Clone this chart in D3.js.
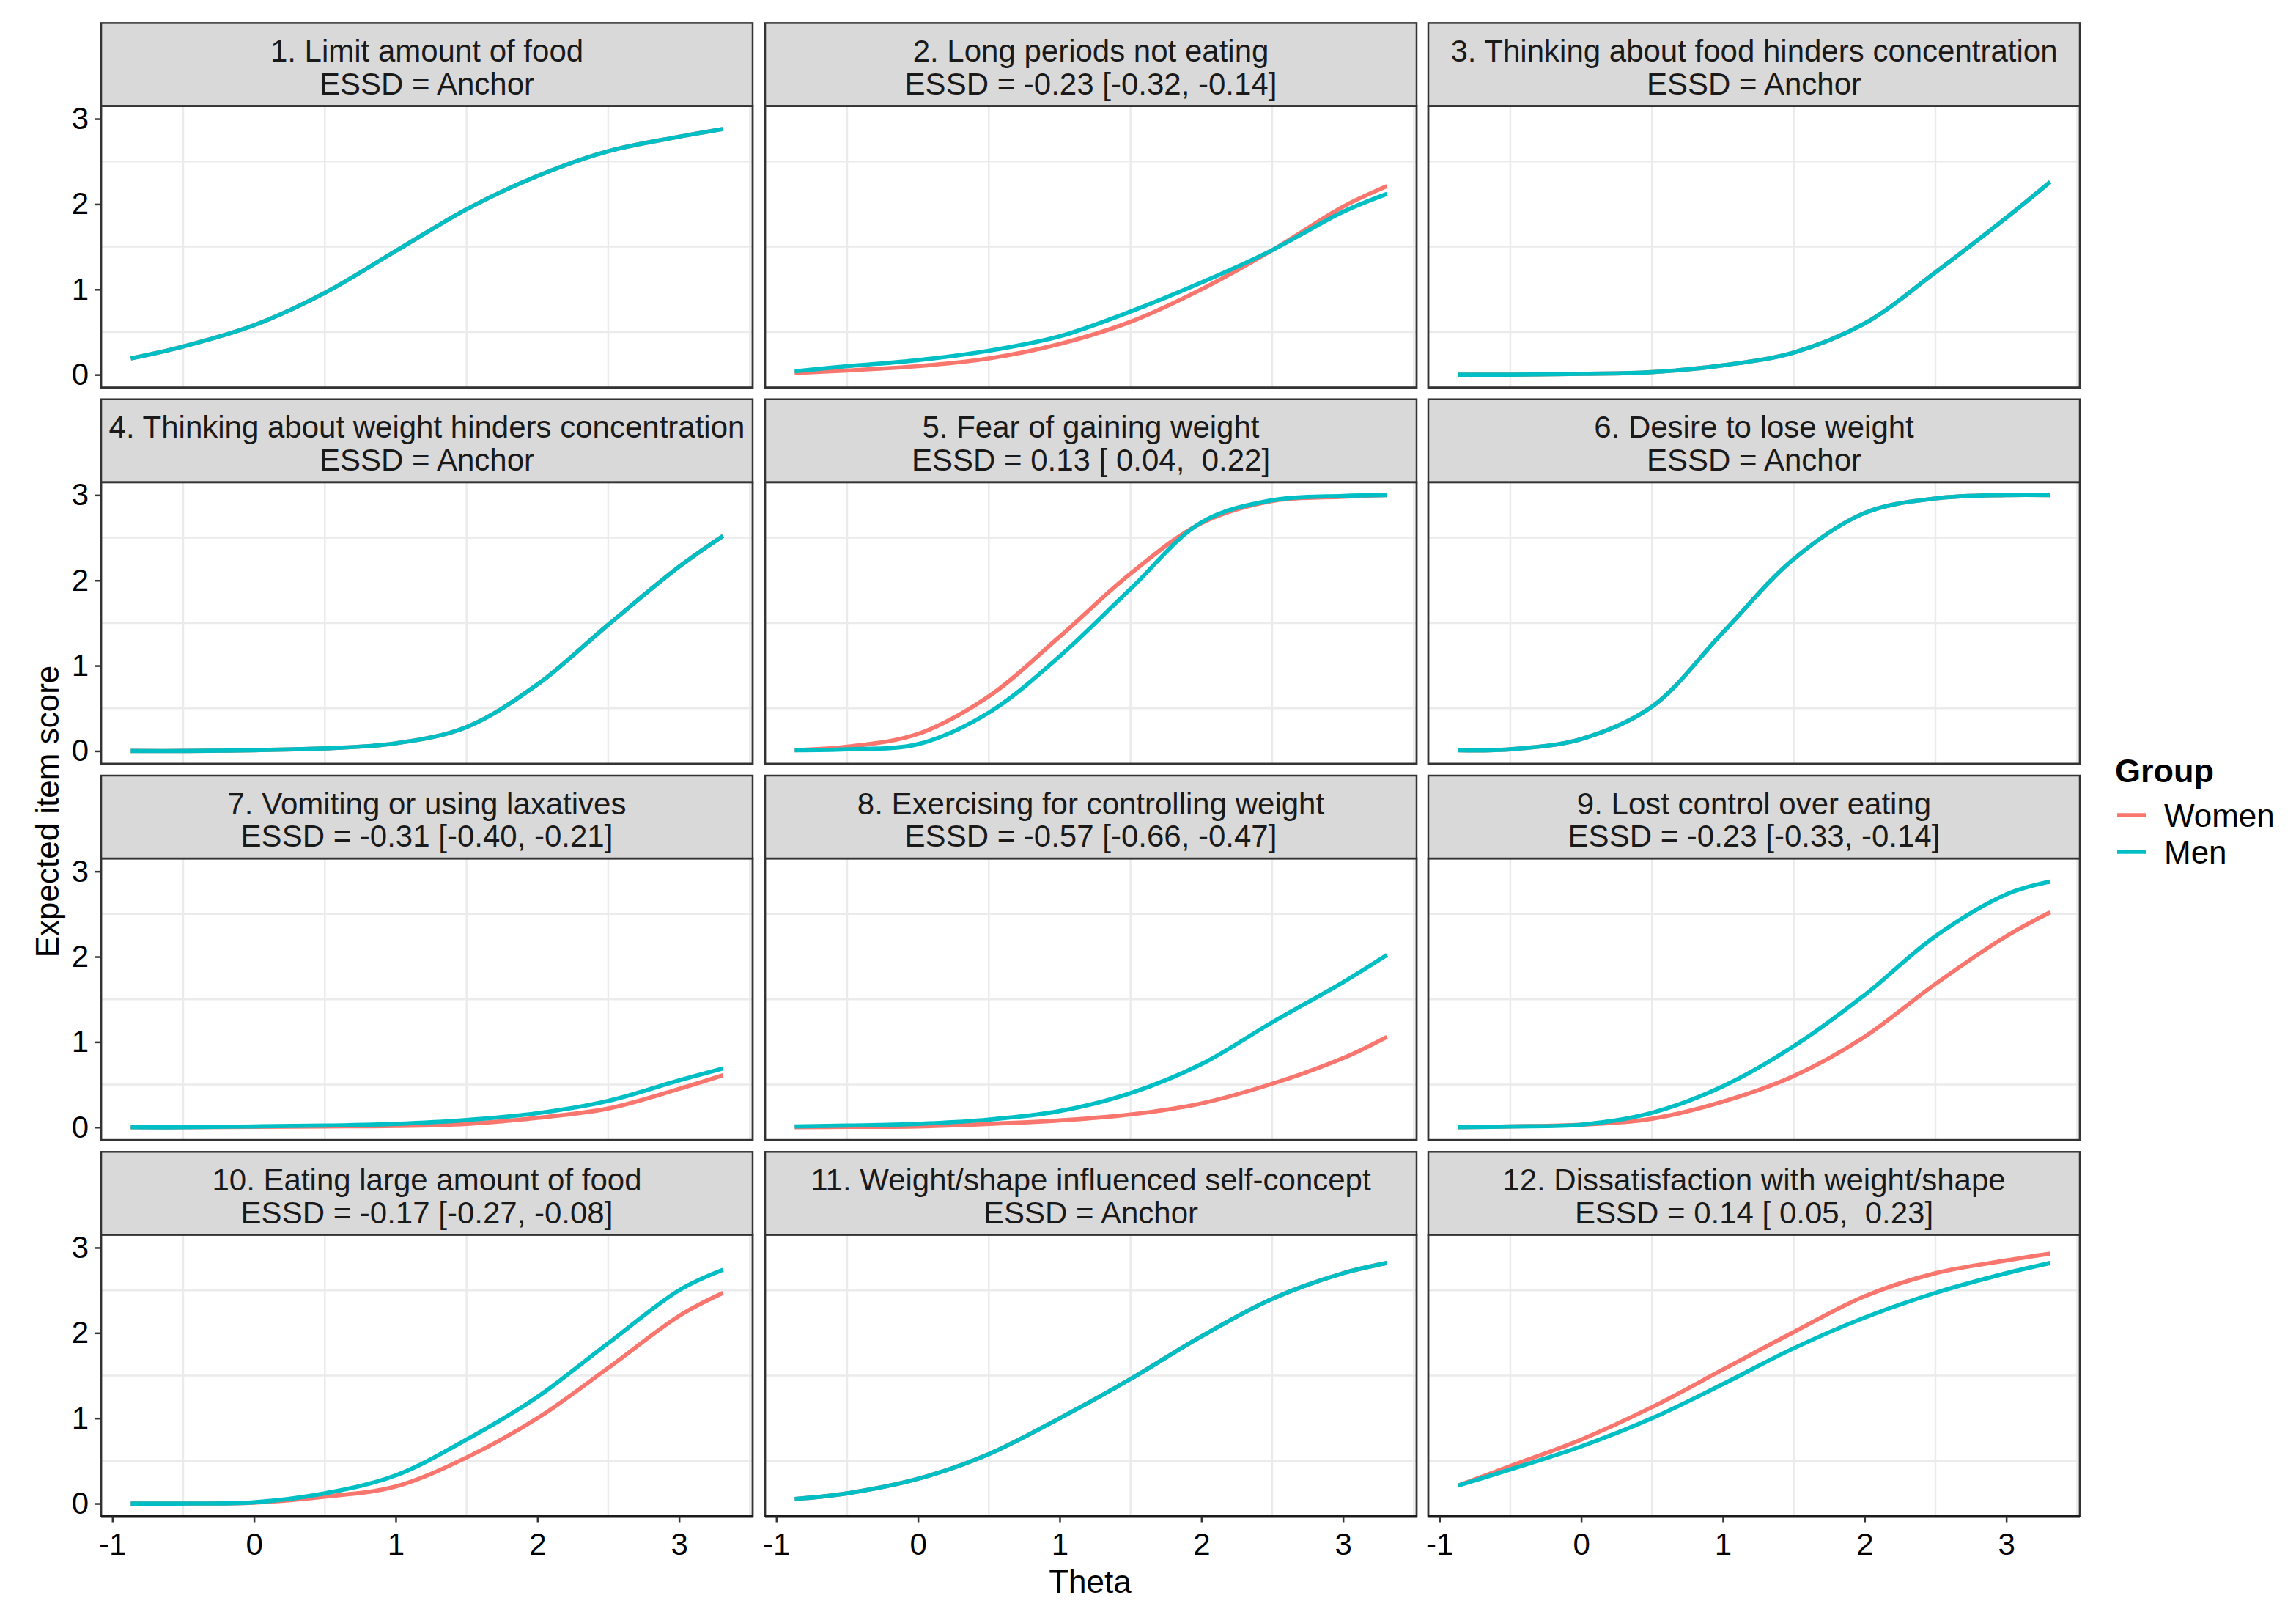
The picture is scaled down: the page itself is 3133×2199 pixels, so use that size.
<!DOCTYPE html>
<html>
<head>
<meta charset="utf-8">
<script src="https://cdn.jsdelivr.net/npm/d3@7"></script>
<style>
  body { margin: 0; background: #fff; }
  text { font-family: "Liberation Sans", Arial, sans-serif; white-space: pre; }
</style>
</head>
<body>
<script>
// Data

var theta = [-0.87, -0.5, 0, 0.5, 1, 1.5, 2, 2.5, 3, 3.31];

var titles = [
  "1. Limit amount of food",
  "2. Long periods not eating",
  "3. Thinking about food hinders concentration",
  "4. Thinking about weight hinders concentration",
  "5. Fear of gaining weight",
  "6. Desire to lose weight",
  "7. Vomiting or using laxatives",
  "8. Exercising for controlling weight",
  "9. Lost control over eating",
  "10. Eating large amount of food",
  "11. Weight/shape influenced self-concept",
  "12. Dissatisfaction with weight/shape"
];

var essd = [
  "ESSD = Anchor",
  "ESSD = -0.23 [-0.32, -0.14]",
  "ESSD = Anchor",
  "ESSD = Anchor",
  "ESSD = 0.13 [ 0.04,  0.22]",
  "ESSD = Anchor",
  "ESSD = -0.31 [-0.40, -0.21]",
  "ESSD = -0.57 [-0.66, -0.47]",
  "ESSD = -0.23 [-0.33, -0.14]",
  "ESSD = -0.17 [-0.27, -0.08]",
  "ESSD = Anchor",
  "ESSD = 0.14 [ 0.05,  0.23]"
];

// expected item score for men, per item, at each theta
var men = [
  [0.19, 0.33, 0.58, 0.96, 1.45, 1.94, 2.33, 2.62, 2.79, 2.88],
  [0.04, 0.10, 0.17, 0.28, 0.45, 0.74, 1.08, 1.46, 1.91, 2.12],
  [0, 0, 0.01, 0.03, 0.11, 0.26, 0.60, 1.20, 1.84, 2.26],
  [0, 0, 0.01, 0.03, 0.09, 0.28, 0.78, 1.48, 2.16, 2.52],
  [0.01, 0.02, 0.08, 0.45, 1.11, 1.90, 2.68, 2.94, 2.99, 3.0],
  [0.01, 0.02, 0.14, 0.52, 1.39, 2.25, 2.79, 2.96, 3.0, 3.0],
  [0, 0, 0.01, 0.02, 0.04, 0.085, 0.165, 0.31, 0.55, 0.69],
  [0.01, 0.02, 0.04, 0.09, 0.19, 0.40, 0.74, 1.23, 1.70, 2.02],
  [0, 0.01, 0.03, 0.17, 0.48, 0.95, 1.55, 2.24, 2.73, 2.88],
  [0, 0, 0.015, 0.12, 0.33, 0.75, 1.25, 1.88, 2.50, 2.74],
  [0.053, 0.12, 0.29, 0.58, 1.0, 1.46, 1.96, 2.40, 2.70, 2.82],
  [0.21, 0.40, 0.67, 1.0, 1.40, 1.82, 2.18, 2.47, 2.70, 2.82]
];

// women; anchor items share the men's curve
var women = [
  men[0],
  [0.02, 0.05, 0.10, 0.19, 0.36, 0.62, 1.00, 1.46, 1.97, 2.21],
  men[2],
  men[3],
  [0.01, 0.05, 0.20, 0.64, 1.34, 2.08, 2.67, 2.93, 2.98, 3.0],
  men[5],
  [0, 0, 0.005, 0.01, 0.015, 0.04, 0.11, 0.22, 0.45, 0.61],
  [0, 0.005, 0.01, 0.04, 0.08, 0.15, 0.28, 0.51, 0.81, 1.06],
  [0, 0.01, 0.03, 0.10, 0.30, 0.60, 1.06, 1.68, 2.24, 2.52],
  [0, 0, 0.01, 0.08, 0.20, 0.54, 1.0, 1.59, 2.20, 2.47],
  men[10],
  [0.21, 0.44, 0.75, 1.13, 1.57, 2.01, 2.43, 2.70, 2.85, 2.93]
];

var groups = ["Women", "Men"];
var groupColors = ["#F8766D", "#00BFC4"];
var xTicks = [-1, 0, 1, 2, 3];
var yTicks = [0, 1, 2, 3];
var xMinor = [-0.5, 0.5, 1.5, 2.5, 3.5];
var yMinor = [0.5, 1.5, 2.5];

//Layout

var W = 3133, H = 2199;
var colLeft = [138, 1044, 1949];
var panelW = 889;
var rowTop0 = 31.4, rowPitch = 513.3;
var stripH = 113.2, plotH = 384;

var svg = d3.select("body").append("svg")
  .attr("width", W).attr("height", H)
  .style("background", "#fff");

var x = d3.scaleLinear().domain([-1.079, 3.519]).range([0, panelW]);
var y = d3.scaleLinear().domain([-0.15, 3.15]).range([plotH, 0]);

var line = d3.line()
  .x(function(d){ return x(d[0]); })
  .y(function(d){ return y(d[1]); })
  .curve(d3.curveCatmullRom.alpha(0.5));

function makePanel(i){
  var col = i % 3, row = Math.floor(i / 3);
  var g = svg.append("g")
    .attr("transform", "translate(" + colLeft[col] + "," + (rowTop0 + row*rowPitch + stripH) + ")");

  // strip
  g.append("rect")
    .attr("x", 0).attr("y", -stripH)
    .attr("width", panelW).attr("height", stripH)
    .attr("fill", "#d9d9d9").attr("stroke", "#333").attr("stroke-width", 2.5);
  g.append("text")
    .attr("x", panelW/2).attr("y", -stripH + 52.6)
    .attr("text-anchor", "middle").attr("font-size", 42).attr("fill", "#1a1a1a")
    .text(titles[i]);
  g.append("text")
    .attr("x", panelW/2).attr("y", -stripH + 97.2)
    .attr("text-anchor", "middle").attr("font-size", 42).attr("fill", "#1a1a1a")
    .text(essd[i]);

  // panel background + grid
  g.append("rect").attr("width", panelW).attr("height", plotH).attr("fill", "#fff");
  g.selectAll(".gx").data(xMinor).enter().append("line")
    .attr("x1", function(d){ return x(d); }).attr("x2", function(d){ return x(d); })
    .attr("y1", 0).attr("y2", plotH)
    .attr("stroke", "#ebebeb").attr("stroke-width", 2.5);
  g.selectAll(".gy").data(yMinor).enter().append("line")
    .attr("x1", 0).attr("x2", panelW)
    .attr("y1", function(d){ return y(d); }).attr("y2", function(d){ return y(d); })
    .attr("stroke", "#ebebeb").attr("stroke-width", 2.5);

  // curves, women first so men sit on top
  [women[i], men[i]].forEach(function(vals, k){
    g.append("path")
      .datum(theta.map(function(t, j){ return [t, vals[j]]; }))
      .attr("d", line)
      .attr("fill", "none")
      .attr("stroke", groupColors[k])
      .attr("stroke-width", 5.7)
      .attr("stroke-linecap", "butt");
  });

  g.append("rect").attr("width", panelW).attr("height", plotH)
    .attr("fill", "none").attr("stroke", "#333").attr("stroke-width", 2.8);

  if(col == 0){
    var ya = g.append("g").call(d3.axisLeft(y).tickValues(yTicks).tickSize(8).tickPadding(9)
      .tickFormat(function(d){ return String(d); }));
    styleAxis(ya);
  }
  if(row == 3){
    g.append("line").attr("x1", 0).attr("x2", panelW).attr("y1", plotH).attr("y2", plotH)
      .attr("stroke", "#1a1a1a").attr("stroke-width", 4);
    var xa = g.append("g").attr("transform", "translate(0," + plotH + ")")
      .call(d3.axisBottom(x).tickValues(xTicks).tickSize(8).tickPadding(15)
        .tickFormat(function(d){ return String(d); }));
    styleAxis(xa);
  }
}

function styleAxis(a){
  a.select(".domain").remove();
  a.selectAll(".tick line").attr("stroke", "#333").attr("stroke-width", 2.5);
  a.selectAll(".tick text")
    .attr("font-size", 42)
    .attr("font-family", "Liberation Sans, Arial, sans-serif")
    .attr("fill", "#000");
}

d3.range(12).forEach(makePanel);

// axis titles
svg.append("text")
  .attr("x", 1487.5).attr("y", 2173)
  .attr("text-anchor", "middle").attr("font-size", 44).attr("fill", "#000")
  .text("Theta");

svg.append("text")
  .attr("transform", "translate(80,1107) rotate(-90)")
  .attr("text-anchor", "middle").attr("font-size", 44).attr("fill", "#000")
  .text("Expected item score");

// legend
var legend = svg.append("g").attr("transform", "translate(2886,0)");
legend.append("text")
  .attr("x", 0).attr("y", 1067)
  .attr("font-size", 45).attr("font-weight", "bold").attr("fill", "#000")
  .text("Group");

legend.selectAll(".key").data(groups).enter().append("line")
  .attr("x1", 3).attr("x2", 43)
  .attr("y1", function(d, i){ return 1112 + i*50; })
  .attr("y2", function(d, i){ return 1112 + i*50; })
  .attr("stroke", function(d, i){ return groupColors[i]; })
  .attr("stroke-width", 5.7);

legend.selectAll(".lab").data(groups).enter().append("text")
  .attr("x", 67)
  .attr("y", function(d, i){ return 1128 + i*50; })
  .attr("font-size", 44).attr("fill", "#000")
  .text(function(d){ return d; });
</script>
</body>
</html>
